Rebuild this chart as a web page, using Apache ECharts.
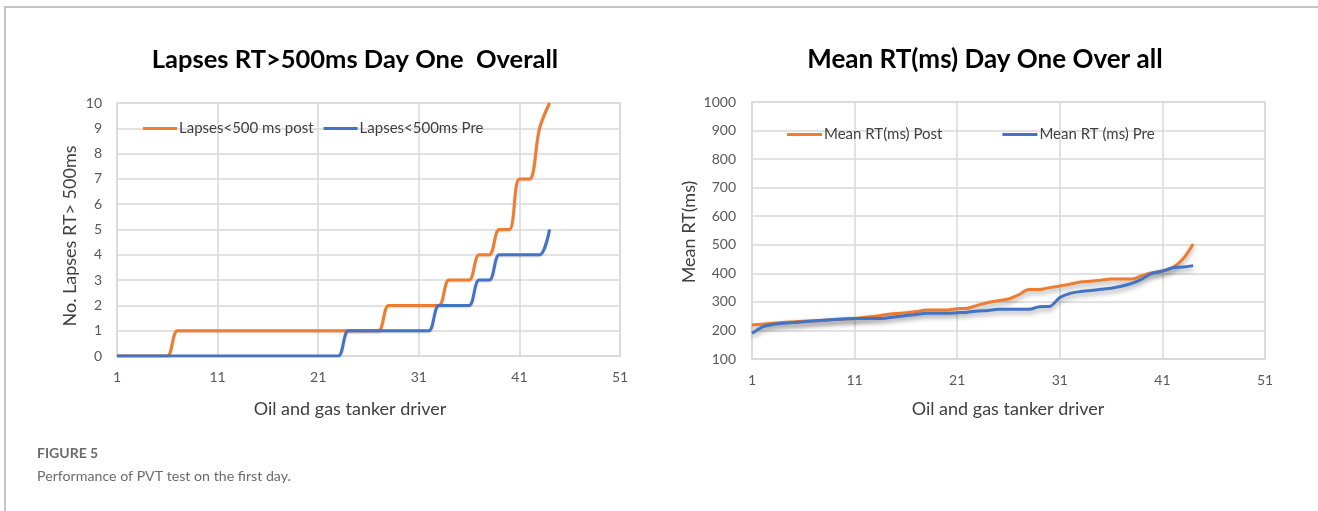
<!DOCTYPE html>
<html>
<head>
<meta charset="utf-8">
<script src="https://cdn.jsdelivr.net/npm/echarts@6/dist/echarts.min.js"></script>
<style>
html,body{margin:0;padding:0;background:#fff;}
#c{width:1318px;height:511px;}
</style>
</head>
<body>
<div id="c"></div>
<script>
// Categories: driver number 1..51
var drivers = [];
for (var i = 1; i <= 51; i++) drivers.push(String(i));

// Left chart: lapses RT>500ms
var lapsesPost = [0,0,0,0,0,0,1,1,1,1,1,1,1,1,1,1,1,1,1,1,1,1,1,1,1,1,1,2,2,2,2,2,2,3,3,3,4,4,5,5,7,7,9,10];
var lapsesPre  = [0,0,0,0,0,0,0,0,0,0,0,0,0,0,0,0,0,0,0,0,0,0,0,1,1,1,1,1,1,1,1,1,2,2,2,2,3,3,4,4,4,4,4,5];

// Right chart: mean RT (ms)
var meanPost = [219,222,225,228,230,232,234,236,238,240,242,246,250,255,259,262,266,272,272,272,276,278,288,298,304,310,325,343,343,350,356,362,370,372,376,380,380,380,392,402,408,420,450,503];
var meanPre  = [190,212,221,225,228,230,233,236,238,240,242,242,242,243,248,252,256,260,260,260,262,264,268,270,274,274,274,274,283,284,315,330,336,340,344,348,355,365,380,400,408,420,422,427];

var titles = ['Lapses RT>500ms Day One  Overall', 'Mean RT(ms) Day One Over all'];
var yNames = ['No. Lapses RT> 500ms', 'Mean RT(ms)'];
var xName = 'Oil and gas tanker driver';
var seriesNames = ['Lapses<500 ms post', 'Lapses<500ms Pre', 'Mean RT(ms) Post', 'Mean RT (ms) Pre'];
var captionLabel = 'FIGURE 5';
var captionText = 'Performance of PVT test on the first day.';

var ORANGE = '#ED7D31', BLUE = '#4472C4';
var FONT = 'Lato, "Open Sans", sans-serif';
var gridColor = '#d9d9d9';

function xAxis(gi) {
  return {
    type: 'category', gridIndex: gi, data: drivers, boundaryGap: false,
    axisLine: {show: true, lineStyle: {color: gridColor, width: 1.5}},
    axisTick: {show: false},
    axisLabel: {interval: 9, color: '#595959', fontSize: 14, fontFamily: FONT, margin: 14},
    splitLine: {show: true, interval: 9, lineStyle: {color: gridColor, width: 1.5}}
  };
}
function yAxis(gi, min, max, step, margin) {
  return {
    type: 'value', gridIndex: gi, min: min, max: max, interval: step,
    axisLine: {show: false}, axisTick: {show: false},
    axisLabel: {color: '#595959', fontSize: 14, fontFamily: FONT, margin: margin,
      formatter: function (v) { return String(v); }},
    splitLine: {show: true, lineStyle: {color: gridColor, width: 1.5}}
  };
}
function line(name, data, color, xi, smooth, width, shadow) {
  return {
    name: name, type: 'line', xAxisIndex: xi, yAxisIndex: xi, data: data,
    symbol: 'none', smooth: smooth,
    lineStyle: {color: color, width: width,
      shadowColor: shadow ? 'rgba(0,0,0,0.35)' : 'rgba(0,0,0,0.15)', shadowBlur: shadow ? 5 : 2, shadowOffsetY: shadow ? 3 : 1},
    itemStyle: {color: color}
  };
}
var legendText = {fontFamily: FONT, fontSize: 15, color: '#404040', padding: [0,0,0,-3]};

var chart = echarts.init(document.getElementById('c'), null, {renderer: 'canvas'});
chart.setOption({
  animation: false,
  backgroundColor: '#fff',
  title: [
    {text: titles[0], left: 350, top: 42, textAlign: 'center',
     textStyle: {fontFamily: FONT, fontWeight: 'bold', fontSize: 25.5, color: '#000'}},
    {text: titles[1], left: 980, top: 42, textAlign: 'center',
     textStyle: {fontFamily: FONT, fontWeight: 'bold', fontSize: 26, color: '#000'}}
  ],
  legend: [
    {data: [seriesNames[0], seriesNames[1]], left: 138, top: 116, icon: 'rect', itemWidth: 34, itemHeight: 3, itemGap: 10,
     textStyle: legendText},
    {data: [seriesNames[2], seriesNames[3]], left: 782, top: 122, icon: 'rect', itemWidth: 35, itemHeight: 3, itemGap: 60,
     textStyle: legendText}
  ],
  grid: [
    {left: 117, top: 103, width: 503, height: 253, show: true, borderColor: gridColor, borderWidth: 1.5, containLabel: false},
    {left: 752, top: 102, width: 513, height: 257, show: true, borderColor: gridColor, borderWidth: 1.5, containLabel: false}
  ],
  xAxis: [xAxis(0), xAxis(1)],
  yAxis: [yAxis(0, 0, 10, 1, 15), yAxis(1, 100, 1000, 100, 16)],
  series: [
    line(seriesNames[0], lapsesPost, ORANGE, 0, 0.35, 3, false),
    line(seriesNames[1], lapsesPre, BLUE, 0, 0.35, 3, false),
    line(seriesNames[2], meanPost, ORANGE, 1, 0.3, 3, true),
    line(seriesNames[3], meanPre, BLUE, 1, 0.3, 3, true)
  ],
  graphic: [
    {type: 'line', shape: {x1: 4, y1: 7, x2: 1318, y2: 7}, style: {stroke: '#c4c4c4', lineWidth: 2}},
    {type: 'line', shape: {x1: 5, y1: 7, x2: 5, y2: 511}, style: {stroke: '#c4c4c4', lineWidth: 2}},
    {type: 'text', x: 70, y: 236, rotation: Math.PI / 2, style: {text: yNames[0], fontFamily: FONT, fontSize: 18, fill: '#404040', align: 'center', verticalAlign: 'middle'}},
    {type: 'text', x: 689, y: 232, rotation: Math.PI / 2, style: {text: yNames[1], fontFamily: FONT, fontSize: 18, fill: '#404040', align: 'center', verticalAlign: 'middle'}},
    {type: 'text', x: 350, y: 409, style: {text: xName, fontFamily: FONT, fontSize: 18, fill: '#404040', align: 'center', verticalAlign: 'middle'}},
    {type: 'text', x: 1008, y: 409, style: {text: xName, fontFamily: FONT, fontSize: 18, fill: '#404040', align: 'center', verticalAlign: 'middle'}},
    {type: 'text', x: 37, y: 453, style: {text: captionLabel, fontFamily: FONT, fontSize: 14, fontWeight: 'bold', fill: '#6b6b6b', verticalAlign: 'middle'}},
    {type: 'text', x: 37, y: 476, style: {text: captionText, fontFamily: FONT, fontSize: 14.2, fill: '#6b6b6b', verticalAlign: 'middle'}}
  ]
});
</script>
</body>
</html>
